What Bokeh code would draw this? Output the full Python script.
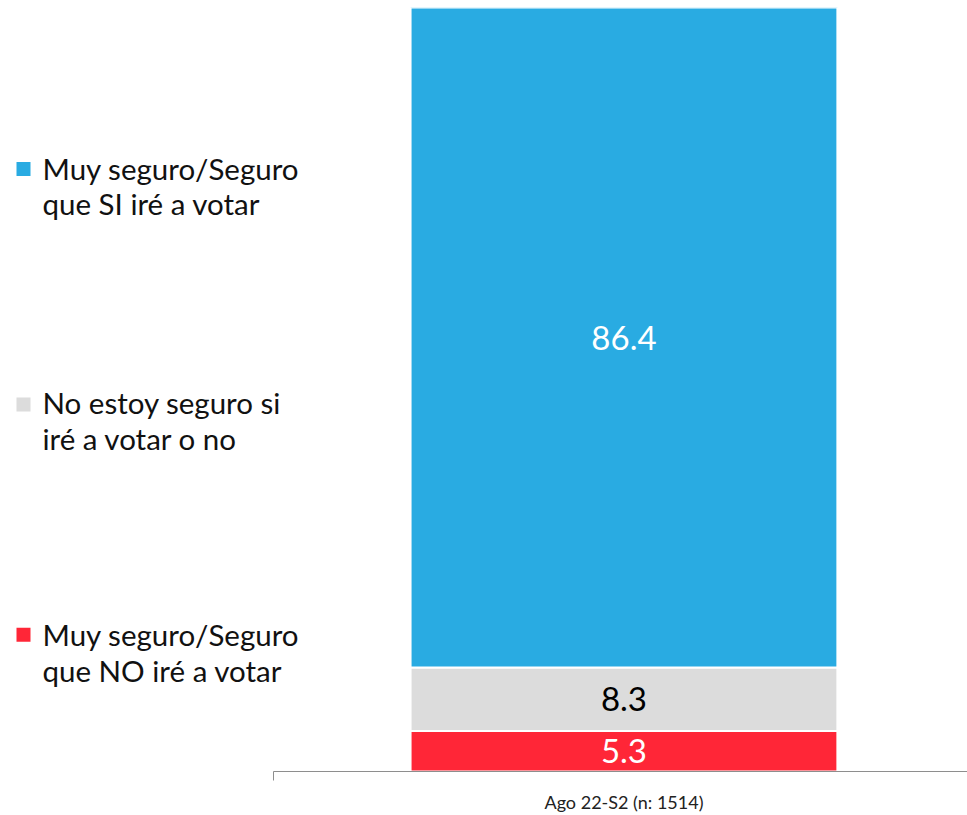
from bokeh.plotting import figure
from bokeh.models import Range1d, FixedTicker, Label, ColumnDataSource
from bokeh.core.properties import value
from bokeh.embed import file_html
from bokeh.resources import INLINE
import numpy as np

categories = ["Ago 22-S2 (n: 1514)"]
no_vote = [5.3]
unsure = [8.3]
yes_vote = [86.4]
series_values = [no_vote, unsure, yes_vote]
series_names = [["Muy seguro/Seguro", "que NO iré a votar"],
                ["No estoy seguro si", "iré a votar o no"],
                ["Muy seguro/Seguro", "que SI iré a votar"]]
colors = ["#FF2637", "#DCDCDC", "#29ABE2"]
label_colors = ["white", "black", "white"]

FONT = "Lato"
W, H = 967, 815
TOP, BOTTOM = 7, 42
AXIS_LEFT_PX = 273
PX_PER_X = W - AXIS_LEFT_PX          # pixels per category unit
x_end = 0.495
x_start = x_end - W / PX_PER_X
frame_h = H - TOP - BOTTOM
PX_PER_Y = frame_h / 100.0

def xpx(px):
    return x_start + px / PX_PER_X

def ypx(py):
    return (H - BOTTOM - py) / PX_PER_Y

p = figure(width=W, height=H, output_backend="svg", toolbar_location=None,
           x_range=Range1d(x_start, x_end), y_range=Range1d(0, 100),
           min_border_left=0, min_border_right=0, min_border_top=TOP,
           min_border_bottom=BOTTOM)
p.outline_line_color = None
p.grid.visible = False
p.yaxis.visible = False
p.background_fill_color = "white"
p.border_fill_color = "white"

xs = list(range(len(categories)))
src = ColumnDataSource(dict(x=xs, s0=no_vote, s1=unsure, s2=yes_vote))
renderers = p.vbar_stack(["s0", "s1", "s2"], x="x", width=0.615, source=src,
                         fill_color=colors, line_color="white", line_width=2)

# value labels centred in each segment
bottoms = np.zeros(len(categories))
for vals, col in zip(series_values, label_colors):
    v = np.array(vals)
    mids = bottoms + v / 2
    p.text(x=xs, y=list(mids), text=[f"{a:.1f}" for a in v], text_color=col,
           text_align="center", text_baseline="middle", text_font_size="33px",
           text_font=value(FONT))
    bottoms = bottoms + v

ax = p.xaxis[0]
ax.bounds = (-0.505, 0.495)
ax.ticker = FixedTicker(ticks=xs, minor_ticks=[-0.505])
ax.major_label_overrides = {i: c for i, c in enumerate(categories)}
ax.major_tick_line_color = None
ax.minor_tick_in = 0
ax.minor_tick_out = 9
ax.minor_tick_line_color = "#8E8E8E"
ax.axis_line_color = "#8E8E8E"
ax.axis_line_width = 1.2
ax.major_label_standoff = 10
ax.major_label_text_font = FONT
ax.major_label_text_font_size = "18px"
ax.major_label_text_color = "#222222"

# legend (top to bottom: SI, unsure, NO); square centre y and first baseline y in px
legend_layout = [(169, 168), (405, 403), (636, 636)]
LINE_GAP = 36
sq_y = []
for (cy, base), names, col in zip(legend_layout, reversed(series_names), reversed(colors)):
    sq_y.append(ypx(cy))
    for k, line in enumerate(names):
        p.add_layout(Label(x=xpx(42), y=ypx(base + k * LINE_GAP), text=line,
                           text_font=FONT, text_font_size="29.5px",
                           text_color="#111111", text_baseline="alphabetic",
                           text_align="left"))
p.rect(x=[xpx(23)] * 3, y=sq_y, width=14, height=14, width_units="screen",
       height_units="screen", fill_color=list(reversed(colors)), line_color=None)

open("out.html", "w").write(file_html(p, INLINE))
